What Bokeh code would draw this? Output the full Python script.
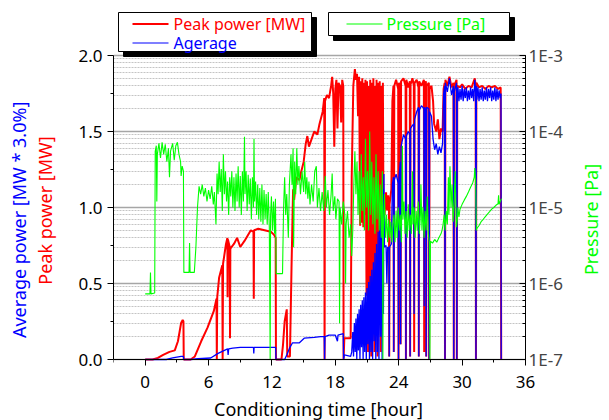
import math
from bokeh.plotting import figure
from bokeh.models import (Range1d, LinearAxis, LogAxis, LogScale, FixedTicker, LogTicker,
                          PrintfTickFormatter, CustomJSTickFormatter, Grid, BoxAnnotation, Label)
from bokeh.embed import file_html
from bokeh.resources import INLINE

# ---------------- data (hours, MW) ----------------
RED = [(0.00,0),(0.70,0),(1.20,0.01),(1.70,0.03),(2.30,0.05),(2.80,0.06),(3.10,0.12),(3.40,0.24),(3.55,0.26),(3.62,0.25),(3.65,0),(4.30,0),(4.70,0.02),(5.00,0.07),(5.30,0.12),(5.90,0.21),(6.50,0.32),(6.75,0.40),(6.78,0),(6.82,0.41),(7.00,0.54),(7.30,0.62),(7.33,0),(7.37,0.63),(7.65,0.76),(7.78,0.80),(7.80,0.41),(7.83,0.79),(8.00,0.74),(8.03,0.14),(8.06,0.73),(8.40,0.76),(8.70,0.80),(9.00,0.74),(9.40,0.78),(10.00,0.85),(10.25,0.84),(10.28,0.40),(10.31,0.85),(10.70,0.86),(11.30,0.85),(11.90,0.84),(12.20,0.82),(12.35,0.80),(12.38,0),
       (12.90,0),(13.05,0.10),(13.20,0.25),(13.40,0.33),(13.45,0.02),(13.70,0.02),(13.85,0.60),(14.00,1.12),(14.10,1.05),(14.30,1.20),(14.60,1.18),(14.75,1.23),(15.00,1.30),(15.20,1.42),(15.35,1.47),(15.50,1.40),(15.70,1.44),(16.00,1.50),(16.30,1.48),(16.50,1.55),(16.80,1.63),(16.95,1.72),(16.98,0),(17.02,1.70),(17.20,1.74),(17.40,1.72),(17.60,1.80),(17.70,1.86),(17.80,1.75),(17.90,1.40),(18.00,1.78),(18.10,1.84),(18.20,1.52),(18.30,1.82),(18.45,1.80),(18.55,1.56),(18.65,1.84),(18.75,1.80),(18.78,0),(18.85,0.14),(19.45,0.14),
       (19.55,1.20),(19.70,1.80),(19.85,1.91),(19.95,1.84),(20.05,1.88),(20.15,1.60),(20.25,1.86),(20.35,0.88),(20.40,1.83),(20.50,0.90),(20.55,1.85),(20.65,0.87),(20.70,1.82),(20.80,0.95),(20.85,1.84),(20.95,0.42),(21.00,1.83),(21.10,0.05),(21.15,1.80),(21.25,0.30),(21.30,1.84),(21.40,0.02),(21.45,1.82),(21.55,0.40),(21.60,1.85),(21.70,0.05),(21.75,1.80),(21.85,0.20),(21.90,1.84),(22.00,0.02),(22.05,1.82),(22.15,0.50),(22.20,1.83),(22.30,0.05),(22.35,1.80),(22.45,0.70),(22.50,1.82),(22.55,1.05),(22.65,0.95),(22.80,1.10),(22.90,0.98),(23.00,1.08),(23.08,1.00),(23.10,0.02),(23.13,1.02),(23.30,1.12),(23.40,1.70),
       (23.50,1.80),(23.53,0.05),(23.58,1.80),(23.75,1.84),(23.95,1.78),(23.98,0),(24.03,1.82),(24.15,1.80),(24.18,0.10),(24.22,1.83),(24.45,1.85),(24.65,1.80),(24.68,0),(24.72,1.84),(24.90,1.79),(25.05,1.83),(25.08,0.02),(25.12,1.81),(25.30,1.85),(25.43,1.80),(25.46,0.05),(25.50,1.82),(25.70,1.84),(25.87,1.79),(25.90,0.02),(25.94,1.83),(26.15,1.80),(26.38,1.84),(26.41,0.05),(26.45,1.80),(26.57,1.83),(26.60,0.02),(26.64,1.80),(26.85,1.82),(26.88,0),(26.92,1.78),(27.10,1.80),(27.25,1.70),(27.35,1.55),(27.55,1.50),(27.70,1.58),(27.85,1.45),(28.00,1.52),(28.15,1.50),(28.25,1.78),(28.35,1.82),(28.38,0),(28.42,1.84),
       (28.60,1.80),(28.80,1.86),(29.00,1.79),(29.18,1.82),(29.21,0),(29.25,1.80),(29.47,1.84),(29.50,0),(29.54,1.80),(29.80,1.79),(30.00,1.81),(30.30,1.78),(30.60,1.80),(30.90,1.79),(31.20,1.85),(31.28,1.80),(31.31,0),(31.35,1.82),(31.60,1.79),(31.90,1.80),(32.20,1.78),(32.50,1.80),(32.80,1.79),(33.10,1.80),(33.40,1.78),(33.65,1.79),(33.70,0)]

BLUE = [(0.00,0),(2.00,0),(2.60,0.01),(3.40,0.02),(3.62,0.02),(3.65,0),(4.30,0),(5.00,0.005),(6.20,0.01),(6.90,0.04),(7.50,0.06),(7.80,0.07),(7.85,0.03),(7.90,0.07),(8.30,0.075),(9.00,0.08),(10.25,0.08),(10.28,0.04),(10.31,0.08),(11.50,0.08),(12.35,0.08),(12.38,0),
        (13.20,0),(13.40,0.03),(13.70,0.08),(13.95,0.11),(14.60,0.11),(15.05,0.14),(16.00,0.145),(16.60,0.15),(16.95,0.15),(16.98,0),(17.02,0.15),(17.40,0.16),(18.00,0.16),(18.20,0.12),(18.25,0.16),(18.75,0.17),(18.78,0),(18.85,0.03),(19.45,0.02),
        (19.55,0.05),(19.65,0.18),(19.72,0.02),(19.80,0.24),(19.88,0.05),(19.95,0.27),(20.03,0.0),(20.10,0.30),(20.18,0.06),(20.25,0.33),(20.33,0.0),(20.40,0.36),(20.48,0.08),(20.55,0.39),(20.63,0.0),(20.70,0.41),(20.78,0.05),(20.85,0.44),(20.93,0.0),(21.00,0.47),(21.08,0.10),(21.15,0.51),(21.23,0.0),(21.30,0.55),(21.38,0.05),(21.45,0.59),(21.53,0.0),(21.60,0.64),(21.68,0.12),(21.75,0.70),(21.83,0.0),(21.90,0.76),(21.98,0.05),(22.05,0.84),(22.13,0.0),(22.20,0.92),(22.28,0.15),(22.35,1.02),(22.43,0.0),(22.50,1.12),(22.55,0.30),(22.60,1.22),(22.65,0.74),(22.80,0.75),(22.88,0.50),(22.95,0.74),(23.08,0.73),(23.10,0.02),(23.13,0.74),(23.30,0.76),(23.40,1.15),
        (23.50,1.20),(23.53,0.05),(23.58,1.18),(23.75,1.22),(23.95,1.16),(23.98,0),(24.03,1.20),(24.15,1.30),(24.18,0.10),(24.22,1.40),(24.45,1.48),(24.65,1.45),(24.68,0),(24.72,1.47),(24.90,1.50),(25.05,1.48),(25.08,0.02),(25.12,1.52),(25.30,1.54),(25.43,1.55),(25.46,0.30),(25.50,1.58),(25.70,1.63),(25.87,1.66),(25.90,0.02),(25.94,1.64),(26.15,1.67),(26.38,1.65),(26.41,0.35),(26.45,1.66),(26.57,1.64),(26.60,0.02),(26.64,1.66),(26.85,1.65),(26.88,0),(26.92,1.63),(27.10,1.60),(27.25,1.45),(27.40,1.38),(27.55,1.42),(27.70,1.35),(27.85,1.40),(28.00,1.36),(28.15,1.42),(28.25,1.75),(28.35,1.80),(28.38,0),(28.42,1.82),
        (28.60,1.76),(28.80,1.85),(29.00,1.74),(29.18,1.80),(29.21,0),(29.25,1.76),(29.47,1.82),(29.50,0),(29.54,1.75),(29.60,1.79),(29.70,1.70),(29.80,1.78),(29.90,1.71),(30.00,1.80),(30.10,1.70),(30.20,1.78),(30.30,1.72),(30.40,1.79),(30.50,1.70),(30.60,1.77),(30.70,1.71),(30.80,1.79),(30.90,1.72),(31.00,1.78),(31.10,1.70),(31.20,1.84),(31.28,1.76),(31.31,0),(31.35,1.80),(31.40,1.71),(31.50,1.79),(31.60,1.70),(31.70,1.78),(31.80,1.71),(31.90,1.79),(32.00,1.70),(32.10,1.77),(32.20,1.71),(32.30,1.79),(32.40,1.70),(32.50,1.78),(32.60,1.72),(32.70,1.79),(32.80,1.70),(32.90,1.77),(33.00,1.71),(33.10,1.79),(33.20,1.70),(33.30,1.78),(33.40,1.71),(33.50,1.77),(33.60,1.72),(33.68,1.75),(33.70,0)]

# pressure (hours, Pa)
GREEN = [(0.00,7.3e-7),(0.45,7.3e-7),(0.50,1.4e-6),(0.55,7.3e-7),(0.90,7.5e-7),(0.95,5.5e-5),(1.05,6.5e-5),(1.10,1.2e-5),(1.15,5.0e-5),(1.30,7.0e-5),(1.45,4.5e-5),(1.60,7.2e-5),(1.75,5.0e-5),(1.90,6.8e-5),(2.05,4.0e-5),(2.20,6.0e-5),(2.30,2.5e-5),(2.40,5.5e-5),(2.60,7.0e-5),(2.75,4.2e-5),(2.90,6.5e-5),(3.05,7.2e-5),(3.20,5.0e-5),(3.35,4.0e-5),(3.40,2.6e-5),(3.50,3.5e-5),(3.62,3.0e-5),(3.66,1.4e-6),(4.15,1.4e-6),(4.20,3.4e-6),(4.25,1.4e-6),(4.65,1.4e-6),(4.80,3.0e-6),(4.95,1.0e-5),(5.10,1.9e-5),(5.25,1.5e-5),(5.40,2.0e-5),(5.55,1.4e-5),(5.70,1.8e-5),(5.85,1.2e-5),(6.00,1.7e-5),(6.15,1.3e-5),(6.30,1.9e-5),(6.45,1.1e-5),(6.55,1.6e-5),(6.70,6.0e-6),(6.80,2.8e-5),(6.90,1.5e-5),(7.00,4.0e-5),(7.10,1.6e-5),(7.20,3.2e-5),(7.30,9.0e-6),(7.40,5.0e-5),(7.50,1.5e-5),(7.60,3.0e-5),(7.70,1.2e-5),(7.80,2.2e-5),(7.90,8.0e-6),(8.00,2.5e-5),(8.10,1.4e-5),
         (8.20,3.0e-5),(8.30,1.0e-5),(8.40,2.5e-5),(8.50,9.0e-6),(8.60,2.8e-5),(8.70,1.2e-5),(8.80,3.5e-5),(8.90,1.0e-5),(9.00,2.6e-5),(9.10,8.0e-6),(9.20,3.0e-5),(9.30,1.2e-5),(9.40,8.5e-5),(9.45,1.5e-5),(9.55,3.0e-5),(9.65,9.0e-6),(9.75,2.7e-5),(9.85,1.1e-5),(9.95,2.4e-5),(10.05,7.0e-6),(10.15,2.5e-5),(10.25,1.0e-5),(10.30,8.0e-5),(10.35,1.2e-5),(10.45,2.2e-5),(10.55,8.0e-6),(10.65,2.0e-5),(10.75,7.0e-6),(10.85,1.8e-5),(10.95,6.5e-6),(11.05,2.0e-5),(11.15,6.0e-6),(11.25,1.7e-5),(11.35,7.0e-6),(11.45,1.5e-5),(11.55,6.0e-6),(11.65,1.6e-5),(11.75,5.5e-6),(11.83,1.0e-7),(11.87,8.0e-6),(11.95,1.4e-5),(12.05,5.0e-6),(12.15,1.2e-5),(12.25,4.5e-6),(12.33,1.3e-5),(12.37,3.5e-6),(12.40,1.35e-6),
         (13.00,1.35e-6),(13.10,1.0e-5),(13.20,2.5e-5),(13.30,8.0e-6),(13.40,1.5e-5),(13.55,4.0e-6),(13.65,2.0e-5),(13.80,5.0e-5),(13.90,2.0e-5),(14.00,6.0e-5),(14.05,3.0e-6),(14.15,4.0e-5),(14.25,1.5e-5),(14.35,6.0e-5),(14.45,2.0e-5),(14.55,3.5e-5),(14.70,1.5e-5),(14.85,3.0e-5),(15.00,1.6e-5),(15.10,4.0e-5),(15.20,1.5e-5),(15.30,2.5e-5),(15.40,1.3e-5),(15.50,2.2e-5),(15.60,1.1e-5),(15.75,2.0e-5),(15.90,1.2e-5),(16.05,3.0e-5),(16.20,3.5e-5),(16.30,1.0e-5),(16.45,1.8e-5),(16.60,9.0e-6),(16.75,1.6e-5),(16.90,9.0e-6),(17.05,2.6e-5),(17.15,1.0e-5),(17.30,1.7e-5),(17.45,8.0e-6),(17.60,1.5e-5),(17.70,2.8e-5),(17.80,9.0e-6),(17.95,1.4e-5),(18.05,7.0e-6),(18.20,1.3e-5),(18.35,1.2e-5),(18.40,3.0e-7),(18.45,1.0e-5),(18.60,6.0e-6),(18.75,1.2e-5),(18.90,8.0e-6),(18.97,1.0e-6),(19.02,6.0e-6),(19.15,9.0e-6),(19.30,4.0e-6),(19.45,6.0e-6),(19.55,2.3e-6),(19.65,5.0e-6),(19.75,2.0e-5),(19.85,5.5e-5),
         (19.95,1.5e-5),(20.05,4.0e-5),(20.15,8.0e-6),(20.25,3.0e-5),(20.35,6.0e-6),(20.45,5.0e-5),(20.55,9.0e-6),(20.65,2.5e-5),(20.75,5.0e-6),(20.85,8.0e-5),(20.95,1.0e-5),(21.05,3.0e-5),(21.15,5.0e-6),(21.25,1.0e-4),(21.35,8.0e-6),(21.45,4.0e-5),(21.55,6.0e-6),(21.65,2.5e-5),(21.75,4.5e-6),(21.85,5.0e-5),(21.95,7.0e-6),(22.05,3.0e-5),(22.15,5.0e-6),(22.25,2.0e-5),(22.35,4.0e-6),(22.45,3.0e-5),(22.50,1.0e-7),(22.55,6.0e-6),(22.65,1.5e-5),(22.75,4.0e-6),(22.85,8.0e-6),(22.95,3.5e-6),(23.05,7.0e-6),(23.15,4.0e-6),(23.25,6.5e-6),(23.35,3.5e-6),(23.45,6.0e-6),
         (23.55,8.0e-6),(23.65,3.5e-6),(23.75,9.0e-6),(23.85,4.0e-6),(23.95,1.0e-5),(24.05,5.0e-6),(24.15,8.0e-6),(24.25,3.5e-6),(24.35,6.5e-5),(24.40,7.0e-6),(24.50,1.2e-5),(24.60,4.5e-6),(24.70,9.0e-6),(24.80,4.0e-6),(24.90,1.1e-5),(25.00,5.0e-6),(25.10,8.0e-6),(25.20,4.5e-6),(25.30,3.0e-5),(25.35,6.0e-6),(25.45,1.0e-5),(25.55,4.0e-6),(25.65,9.0e-6),(25.75,5.0e-6),(25.85,1.2e-5),(25.95,4.5e-6),(26.05,8.0e-6),(26.10,2.0e-5),(26.20,5.0e-6),(26.30,1.0e-5),(26.40,4.0e-6),(26.50,9.0e-6),(26.60,5.0e-6),(26.70,1.4e-5),(26.80,4.5e-6),(26.90,3.5e-6),(26.95,1.0e-7),(27.00,3.6e-6),(27.20,3.4e-6),(27.40,3.8e-6),(27.60,3.5e-6),(27.80,4.0e-6),(28.00,4.5e-6),(28.10,5.0e-6),(28.20,6.0e-6),(28.30,8.0e-6),(28.40,5.0e-6),(28.50,9.0e-6),(28.60,6.0e-6),(28.70,2.5e-5),(28.75,8.0e-6),(28.85,3.5e-5),(28.95,1.0e-5),(29.05,2.0e-5),(29.15,6.5e-6),(29.25,1.2e-5),(29.35,3.0e-5),(29.45,5.5e-6),
         (29.55,7.0e-6),(29.60,1.0e-5),(29.70,7.5e-6),(29.80,9.5e-6),(30.00,1.1e-5),(30.20,1.25e-5),(30.40,1.4e-5),(30.60,1.6e-5),(30.80,1.85e-5),(31.00,2.1e-5),(31.15,2.5e-5),(31.20,3.3e-5),(31.28,2.2e-5),(31.35,5.0e-6),(31.40,5.3e-6),(31.60,5.8e-6),(31.80,6.5e-6),(32.00,7.0e-6),(32.20,7.6e-6),(32.40,8.2e-6),(32.60,8.8e-6),(32.80,9.5e-6),(33.00,1.0e-5),(33.20,1.07e-5),(33.40,1.12e-5),(33.45,1.45e-5),(33.50,1.1e-5),(33.60,1.2e-5),(33.75,1.3e-5)]

X_TICKS = [0, 6, 12, 18, 24, 30, 36]
X_MINOR = [-3, 3, 9, 15, 21, 27, 33]
Y_TICKS = [0, 0.5, 1.0, 1.5, 2.0]
Y_MINOR = [0.25, 0.75, 1.25, 1.75]

X0, X1 = -3, 36
Y0, Y1 = 0.0, 2.0
LOG0, LOG1 = -7, -3

FONT = "Noto Sans"
RED_C, BLUE_C, GREEN_C = "#ff0000", "#0000ff", "#00ff00"
NB = "\u00a0"   # padding that moves a side label along its axis

# ---------------- layout (page pixels) ----------------
W, H = 609, 420
FL, FR = 113, 525          # plot box left / right
FT, FB = 55, 359           # where 2.0 / 0.0 sit
# the drawing frame reaches the top, right and bottom edges of the canvas so the legend
# boxes, the right-hand title and the bottom title can be drawn outside the plot box
YTOP = Y0 + (Y1 - Y0) * FB / (FB - FT)
YBOT = Y0 - (Y1 - Y0) * (H - FB) / (FB - FT)
PTOP = 10 ** (LOG0 + (LOG1 - LOG0) * FB / (FB - FT))
PBOT = 10 ** (LOG0 - (LOG1 - LOG0) * (H - FB) / (FB - FT))
XRIGHT = X1 + (X1 - X0) * (W - FR) / (FR - FL)

def dx(px):
    return X0 + (px - FL) / (FR - FL) * (X1 - X0)
def dy(py):
    return Y0 + (FB - py) / (FB - FT) * (Y1 - Y0)

p = figure(width=W, height=H, x_range=Range1d(X0, XRIGHT), y_range=Range1d(YBOT, YTOP),
           output_backend="svg", toolbar_location=None,
           min_border_left=FL, min_border_right=0, min_border_top=0, min_border_bottom=0)
p.outline_line_color = None
p.background_fill_color = "white"
p.border_fill_color = "white"
p.extra_y_ranges = {"p": Range1d(PBOT, PTOP)}
p.extra_y_scales = {"p": LogScale()}
p.xgrid.visible = False
p.ygrid.visible = False

# bottom axis, pinned at 0
xa = p.xaxis[0]
xa.ticker = FixedTicker(ticks=X_TICKS, minor_ticks=X_MINOR)
xa.bounds = (X0, X1)
xa.fixed_location = Y0
# left axis (peak power)
ya = p.yaxis[0]
ya.ticker = FixedTicker(ticks=Y_TICKS, minor_ticks=Y_MINOR)
ya.formatter = PrintfTickFormatter(format="%.1f")
ya.bounds = (Y0, Y1)
ya.axis_label = "Peak power [MW]"
ya.axis_label_text_color = RED_C

for ax in (xa, ya):
    ax.major_tick_out = 6
    ax.major_tick_in = 0
    ax.minor_tick_out = 3
    ax.minor_tick_in = 0
    ax.axis_line_color = "black"
    ax.major_tick_line_color = "black"
    ax.minor_tick_line_color = "black"
    ax.major_label_text_font = FONT
    ax.major_label_text_font_size = "17px"
    ax.major_label_text_color = "black"
    ax.axis_label_text_font = FONT
    ax.axis_label_text_font_size = "18px"
    ax.axis_label_text_font_style = "normal"
xa.major_label_standoff = 10
ya.major_label_standoff = 5
ya.axis_label_standoff = 18

# second left axis carrying the blue label
ya2 = LinearAxis(ticker=FixedTicker(ticks=[]), axis_label="Average power [MW * 3.0%]" + NB * 4,
                 axis_label_text_color=BLUE_C, axis_label_text_font=FONT,
                 axis_label_text_font_size="18px", axis_label_text_font_style="normal",
                 axis_line_color=None, major_tick_line_color=None, minor_tick_line_color=None,
                 major_tick_out=0, minor_tick_out=0, major_label_standoff=0, axis_label_standoff=0)
p.add_layout(ya2, "left")

# right log axis, pinned at the right edge of the plot box
ra = LogAxis(y_range_name="p", ticker=LogTicker(num_minor_ticks=10),
             bounds=(10 ** LOG0, 10 ** LOG1), fixed_location=X1)
ra.formatter = CustomJSTickFormatter(code="return '1E-' + Math.round(-Math.log10(tick));")
ra.major_tick_in = 6
ra.major_tick_out = 0
ra.minor_tick_in = 3
ra.minor_tick_out = 0
ra.major_label_standoff = 3
ra.major_label_text_font = FONT
ra.major_label_text_font_size = "17px"
p.add_layout(ra, "right")

g = Grid(dimension=1, ticker=ra.ticker, y_range_name="p", bounds=(10 ** LOG0, 10 ** LOG1),
         grid_line_color="#a6a6a6", grid_line_width=1.5,
         minor_grid_line_color="#c4c4c4", minor_grid_line_dash="2 1", minor_grid_line_width=1)
p.add_layout(g)

# series
p.line([t for t, v in RED], [v for t, v in RED], line_color=RED_C, line_width=2)
p.line([t for t, v in BLUE], [v for t, v in BLUE], line_color=BLUE_C, line_width=1.3)
p.line([t for t, v in GREEN], [v for t, v in GREEN], line_color=GREEN_C, line_width=1.1, y_range_name="p")

# white margin right of the plot box (covers grid lines there, under the axis)
p.add_layout(BoxAnnotation(left=X1, fill_color="white", fill_alpha=1.0, line_color=None, level="glyph"))

# axis titles drawn in the margins
p.add_layout(Label(x=dx(590), y=dy(219), text="Pressure [Pa]", angle=math.pi / 2,
                   text_color=GREEN_C, text_font=FONT, text_font_size="18px",
                   text_align="center", text_baseline="middle"))
p.add_layout(Label(x=dx(318), y=dy(408), text="Conditioning time [hour]",
                   text_color="black", text_font=FONT, text_font_size="18px",
                   text_align="center", text_baseline="middle"))

# ---------------- legends (boxes with drop shadow above the plot box) ----------------
def box(l, t, r, b, fill, line):
    return BoxAnnotation(left=dx(l), right=dx(r), top=dy(t), bottom=dy(b),
                         fill_color=fill, fill_alpha=1.0,
                         line_color=line, line_alpha=1.0, line_width=1)

for (l, t, r, b) in [(118, 12, 311, 51), (328, 12, 509, 35)]:
    p.add_layout(box(l + 5, t + 5, r + 5, b + 5, "black", "black"))
    p.add_layout(box(l, t, r, b, "white", "black"))

for (l, r, yc, hw, c) in [(132, 168, 23.5, 1.0, RED_C), (132, 168, 42.5, 0.6, BLUE_C), (346, 382, 23.5, 0.6, GREEN_C)]:
    p.add_layout(box(l, yc - hw, r, yc + hw, c, None))

for (px, py, txt, c) in [(173, 23.5, "Peak power [MW]", RED_C), (173, 42.5, "Agerage", BLUE_C), (386, 23.5, "Pressure [Pa]", GREEN_C)]:
    p.add_layout(Label(x=dx(px), y=dy(py), text=txt, text_color=c, text_font=FONT,
                       text_font_size="16px", text_baseline="middle", text_align="left"))

open("out.html", "w").write(file_html(p, INLINE))
